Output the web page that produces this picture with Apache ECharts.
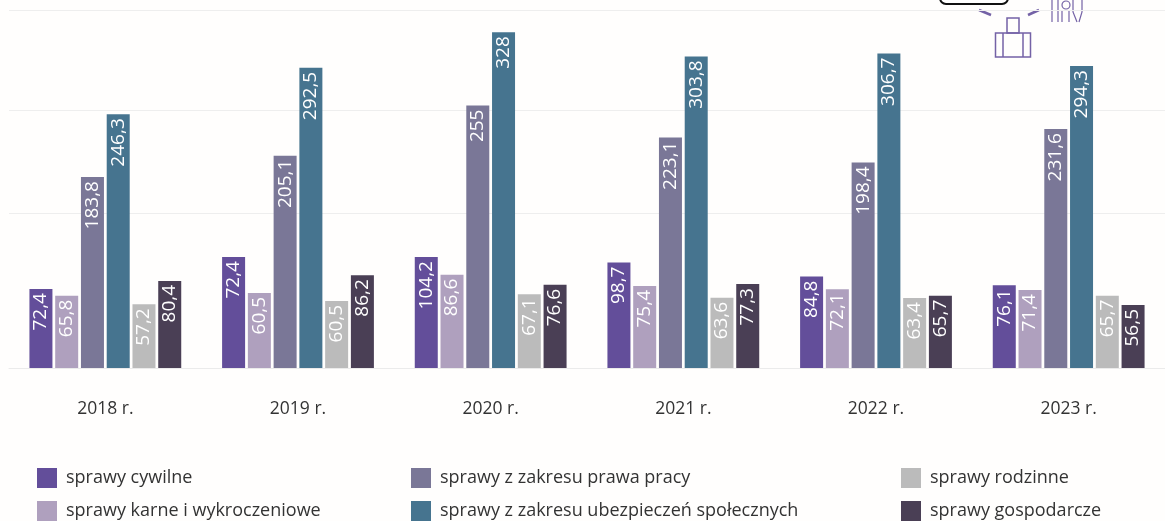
<!DOCTYPE html>
<html><head><meta charset="utf-8">
<style>html,body{margin:0;padding:0;background:#fffefd}#c{width:1165px;height:521px}</style>
<script src="https://cdn.jsdelivr.net/npm/echarts@6/dist/echarts.min.js"></script>
</head><body><div id="c"></div>
<script>
const years = ['2018 r.','2019 r.','2020 r.','2021 r.','2022 r.','2023 r.'];
const names = ['sprawy cywilne','sprawy karne i wykroczeniowe','sprawy z zakresu prawa pracy','sprawy z zakresu ubezpieczeń społecznych','sprawy rodzinne','sprawy gospodarcze'];
const colors = ['#634E9A','#AFA0BE','#7A7797','#46748F','#BBBBBB','#4A3F55'];
const cywilne = [72.4,104.2,104.2,98.7,84.8,76.1];
const karne = [65.8,68.5,86.6,75.4,72.1,71.4];
const praca = [183.8,205.1,255,223.1,198.4,231.6];
const ubezp = [246.3,292.5,328,303.8,306.7,294.3];
const rodzinne = [57.2,60.5,67.1,63.6,63.4,65.7];
const gosp = [80.4,86.2,76.6,77.3,65.7,56.5];
const cywilneLabels = ['72,4','72,4','104,2','98,7','84,8','76,1'];
const karneLabels = ['65,8','60,5','86,6','75,4','72,1','71,4'];
const gridValues = [148,250,350];
const font = 'Open Sans';
const fmt = v => String(v).replace('.',',');
const valueSets = [cywilne,karne,praca,ubezp,rodzinne,gosp];
const labelSets = [cywilneLabels,karneLabels,null,null,null,null];
const series = names.map((n,i)=>({
  name:n,type:'bar',data:valueSets[i],barWidth:23,barGap:'12%',
  itemStyle:{color:colors[i]},
  label:{show:true,position:'insideTop',distance:4,rotate:90,align:'right',verticalAlign:'middle',
    color:'#fff',fontFamily:font,fontSize:19,
    formatter:p=>labelSets[i]?labelSets[i][p.dataIndex]:fmt(p.value)}
}));
const legendCol = (x,idx)=>({left:x,top:468,padding:0,orient:'vertical',itemWidth:20,itemHeight:20,itemGap:13,icon:'rect',
  data:idx.map(i=>names[i]),selectedMode:false,
  textStyle:{fontFamily:font,fontSize:18,color:'#333',padding:[0,0,0,4]}});
const ink='#7462A6';
const chart = echarts.init(document.getElementById('c'));
chart.setOption({
  animation:false,backgroundColor:'#fffefd',
  grid:{left:9,width:1160,top:0,bottom:153,containLabel:false},
  xAxis:{type:'category',data:years,axisTick:{show:false},
    axisLine:{show:true,onZero:false,lineStyle:{color:'#ebebeb'}},
    axisLabel:{margin:32,color:'#333',fontFamily:font,fontSize:17.5}},
  yAxis:{type:'value',min:-6.2,max:360,startValue:-6.2,
    axisLabel:{show:false},axisLine:{show:false},
    axisTick:{show:false,customValues:gridValues},
    splitLine:{show:true,lineStyle:{color:'#eeeeee'}}},
  legend:[legendCol(37,[0,1]),legendCol(411,[2,3]),legendCol(901,[4,5])],
  series,
  graphic:[
    {type:'rect',shape:{x:940,y:-12,width:68,height:16,r:6},style:{fill:'#fff',stroke:'#111',lineWidth:2}},
    {type:'line',shape:{x1:979,y1:10,x2:991,y2:15},style:{stroke:ink,lineWidth:2.5}},
    {type:'line',shape:{x1:1028,y1:15,x2:1039,y2:10},style:{stroke:ink,lineWidth:2.5}},
    {type:'rect',shape:{x:995.5,y:33,width:35,height:24},style:{fill:'none',stroke:ink,lineWidth:1.5}},
    {type:'rect',shape:{x:1007,y:18,width:12,height:15},style:{fill:'none',stroke:ink,lineWidth:1.5}},
    {type:'line',shape:{x1:1003,y1:33,x2:1003,y2:57},style:{stroke:ink,lineWidth:1.5}},
    {type:'line',shape:{x1:1023,y1:33,x2:1023,y2:57},style:{stroke:ink,lineWidth:1.5}},
    {type:'line',shape:{x1:1052,y1:0,x2:1052,y2:22},style:{stroke:ink,lineWidth:1.2}},
    {type:'line',shape:{x1:1058,y1:0,x2:1058,y2:22},style:{stroke:ink,lineWidth:1.2}},
    {type:'circle',shape:{cx:1066,cy:5,r:4},style:{fill:'none',stroke:ink,lineWidth:1.2}},
    {type:'line',shape:{x1:1062,y1:10,x2:1062,y2:22},style:{stroke:ink,lineWidth:1.2}},
    {type:'line',shape:{x1:1069,y1:10,x2:1069,y2:22},style:{stroke:ink,lineWidth:1.2}},
    {type:'polyline',shape:{points:[[1073,0],[1073,12],[1077,22]]},style:{fill:'none',stroke:ink,lineWidth:1.2}},
    {type:'polyline',shape:{points:[[1082,0],[1082,12],[1079,22]]},style:{fill:'none',stroke:ink,lineWidth:1.2}}
  ]
});
</script></body></html>
